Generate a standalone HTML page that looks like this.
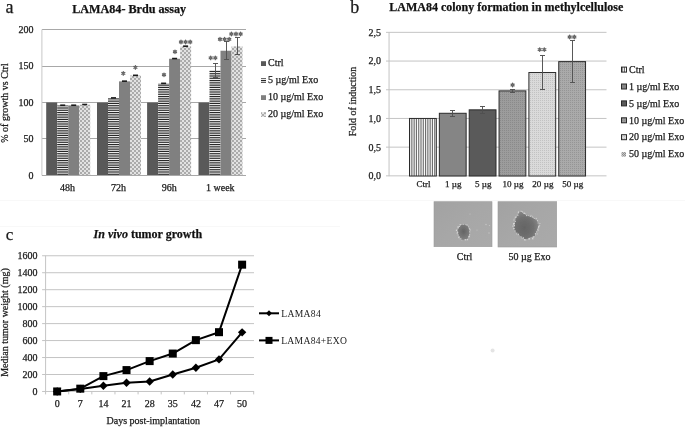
<!DOCTYPE html>
<html><head><meta charset="utf-8"><title>Figure</title>
<style>html,body{margin:0;padding:0;background:#fff;width:685px;height:427px;overflow:hidden;font-family:"Liberation Serif",serif;}svg{display:block;filter:grayscale(1)} text{stroke:#1a1a1a;stroke-width:0.25px}</style>
</head><body>
<svg width="685" height="427" viewBox="0 0 685 427">
<defs>
 <pattern id="pH" width="4" height="16" patternUnits="userSpaceOnUse">
  <rect y="0" width="4" height="1" fill="#282828"/><rect y="1" width="4" height="1" fill="#cecece"/><rect y="2" width="4" height="1" fill="#5e5e5e"/><rect y="3" width="4" height="1" fill="#989898"/><rect y="4" width="4" height="1" fill="#989898"/><rect y="5" width="4" height="1" fill="#5e5e5e"/><rect y="6" width="4" height="1" fill="#cecece"/><rect y="7" width="4" height="1" fill="#282828"/><rect y="8" width="4" height="1" fill="#ebebeb"/><rect y="9" width="4" height="1" fill="#454545"/><rect y="10" width="4" height="1" fill="#b5b5b5"/><rect y="11" width="4" height="1" fill="#7b7b7b"/><rect y="12" width="4" height="1" fill="#7b7b7b"/><rect y="13" width="4" height="1" fill="#b5b5b5"/><rect y="14" width="4" height="1" fill="#454545"/><rect y="15" width="4" height="1" fill="#ebebeb"/>
 </pattern>
 <pattern id="pC" width="4" height="4" patternUnits="userSpaceOnUse">
  <rect width="4" height="4" fill="#e2e2e2"/>
  <rect x="0" y="0" width="2" height="2" fill="#ababab"/>
  <rect x="2" y="2" width="2" height="2" fill="#ababab"/>
 </pattern>
 <pattern id="pV" x="409" width="16" height="4" patternUnits="userSpaceOnUse">
  <rect x="0" width="1" height="4" fill="#6e6e6e"/><rect x="1" width="1" height="4" fill="#e5e5e5"/><rect x="2" width="1" height="4" fill="#949494"/><rect x="3" width="1" height="4" fill="#bebebe"/><rect x="4" width="1" height="4" fill="#bebebe"/><rect x="5" width="1" height="4" fill="#949494"/><rect x="6" width="1" height="4" fill="#e5e5e5"/><rect x="7" width="1" height="4" fill="#6e6e6e"/><rect x="8" width="1" height="4" fill="#fafafa"/><rect x="9" width="1" height="4" fill="#838383"/><rect x="10" width="1" height="4" fill="#d4d4d4"/><rect x="11" width="1" height="4" fill="#aaaaaa"/><rect x="12" width="1" height="4" fill="#aaaaaa"/><rect x="13" width="1" height="4" fill="#d4d4d4"/><rect x="14" width="1" height="4" fill="#838383"/><rect x="15" width="1" height="4" fill="#fafafa"/>
 </pattern>
 <pattern id="pD1" width="2" height="2" patternUnits="userSpaceOnUse">
  <rect width="2" height="2" fill="#9c9c9c"/>
  <rect width="1" height="1" fill="#8a8a8a"/>
 </pattern>
 <pattern id="pD2" width="2" height="2" patternUnits="userSpaceOnUse">
  <rect width="2" height="2" fill="#dadada"/>
  <rect width="1" height="1" fill="#c2c2c2"/>
 </pattern>
 <pattern id="pD3" width="2" height="2" patternUnits="userSpaceOnUse">
  <rect width="2" height="2" fill="#aaaaaa"/>
  <rect width="1" height="1" fill="#959595"/>
 </pattern>
 <pattern id="pL50" width="2" height="2" patternUnits="userSpaceOnUse">
  <rect width="2" height="2" fill="#c8c8c8"/>
  <rect width="1" height="1" fill="#8c8c8c"/><rect x="1" y="1" width="1" height="1" fill="#8c8c8c"/>
 </pattern>
 <linearGradient id="phg" x1="0" y1="0" x2="1" y2="1">
  <stop offset="0" stop-color="#a2a2a2"/><stop offset="0.5" stop-color="#a7a7a7"/><stop offset="1" stop-color="#aaaaaa"/>
 </linearGradient>
 <filter id="soft" x="-20%" y="-20%" width="140%" height="140%"><feGaussianBlur stdDeviation="0.45"/></filter>
 <radialGradient id="bg1" cx="48%" cy="45%" r="55%">
  <stop offset="0" stop-color="#646464"/>
  <stop offset="1" stop-color="#828282"/>
 </radialGradient>
 <radialGradient id="bg2" cx="42%" cy="58%" r="60%">
  <stop offset="0" stop-color="#646464"/>
  <stop offset="0.6" stop-color="#707070"/>
  <stop offset="1" stop-color="#8a8a8a"/>
 </radialGradient>
 <radialGradient id="blob1" cx="50%" cy="50%" r="50%">
  <stop offset="0" stop-color="#676767"/>
  <stop offset="0.7" stop-color="#747474"/>
  <stop offset="1" stop-color="#a6a6a6" stop-opacity="0"/>
 </radialGradient>
</defs>
<line x1="0" y1="200.5" x2="685" y2="200.5" stroke="#f8f8f8" stroke-width="1"/>
<line x1="0" y1="226.5" x2="340" y2="226.5" stroke="#f8f8f8" stroke-width="1"/>
<text x="5.5" y="13" font-family="Liberation Serif" font-size="18" fill="#1a1a1a">a</text>
<text x="72.2" y="13.2" font-family="Liberation Serif" font-size="12.15" font-weight="bold" fill="#111">LAMA84- Brdu assay</text>
<line x1="42" y1="138.5" x2="246" y2="138.5" stroke="#a8a8a8" stroke-width="1"/>
<text x="33.5" y="142.35" font-family="Liberation Serif" font-size="10" text-anchor="end" fill="#1a1a1a">50</text>
<line x1="42" y1="102.5" x2="246" y2="102.5" stroke="#a8a8a8" stroke-width="1"/>
<text x="33.5" y="105.9" font-family="Liberation Serif" font-size="10" text-anchor="end" fill="#1a1a1a">100</text>
<line x1="42" y1="66.5" x2="246" y2="66.5" stroke="#a8a8a8" stroke-width="1"/>
<text x="33.5" y="69.45" font-family="Liberation Serif" font-size="10" text-anchor="end" fill="#1a1a1a">150</text>
<line x1="42" y1="29.5" x2="246" y2="29.5" stroke="#a8a8a8" stroke-width="1"/>
<text x="33.5" y="33" font-family="Liberation Serif" font-size="10" text-anchor="end" fill="#1a1a1a">200</text>
<text x="33.5" y="178.8" font-family="Liberation Serif" font-size="10" text-anchor="end" fill="#1a1a1a">0</text>
<line x1="41.9" y1="29.5" x2="41.9" y2="175.5" stroke="#c8c8c8" stroke-width="1"/>
<rect x="46.2" y="102.5" width="11" height="72.9" fill="#595959"/>
<rect x="57.2" y="105.42" width="11" height="69.98" fill="url(#pH)"/>
<rect x="68.2" y="105.42" width="11" height="69.98" fill="#808080"/>
<rect x="79.2" y="104.69" width="11" height="70.71" fill="url(#pC)"/>
<text x="67.6" y="191" font-family="Liberation Serif" font-size="10" text-anchor="middle" fill="#1a1a1a">48h</text>
<rect x="97" y="102.5" width="11" height="72.9" fill="#595959"/>
<rect x="108" y="98.13" width="11" height="77.27" fill="url(#pH)"/>
<rect x="119" y="81.36" width="11" height="94.04" fill="#808080"/>
<rect x="130" y="75.53" width="11" height="99.87" fill="url(#pC)"/>
<text x="118.4" y="191" font-family="Liberation Serif" font-size="10" text-anchor="middle" fill="#1a1a1a">72h</text>
<rect x="147.1" y="102.5" width="11" height="72.9" fill="#595959"/>
<rect x="158.1" y="83.55" width="11" height="91.85" fill="url(#pH)"/>
<rect x="169.1" y="58.76" width="11" height="116.64" fill="#808080"/>
<rect x="180.1" y="46.37" width="11" height="129.03" fill="url(#pC)"/>
<text x="169.2" y="191" font-family="Liberation Serif" font-size="10" text-anchor="middle" fill="#1a1a1a">96h</text>
<rect x="198.5" y="102.5" width="11" height="72.9" fill="#595959"/>
<rect x="209.5" y="70.42" width="11" height="104.98" fill="url(#pH)"/>
<rect x="220.5" y="50.74" width="11" height="124.66" fill="#808080"/>
<rect x="231.5" y="46.37" width="11" height="129.03" fill="url(#pC)"/>
<text x="220.3" y="191" font-family="Liberation Serif" font-size="10" text-anchor="middle" fill="#1a1a1a">1 week</text>
<line x1="42" y1="175.5" x2="246" y2="175.5" stroke="#a8a8a8" stroke-width="1"/>
<rect x="60.2" y="104.42" width="5" height="1.6" fill="#1a1a1a"/>
<rect x="71.2" y="104.42" width="5" height="1.6" fill="#1a1a1a"/>
<rect x="82.2" y="103.69" width="5" height="1.6" fill="#1a1a1a"/>
<rect x="111" y="97.13" width="5" height="1.6" fill="#1a1a1a"/>
<rect x="122" y="80.36" width="5" height="1.6" fill="#1a1a1a"/>
<rect x="133" y="74.53" width="5" height="1.6" fill="#1a1a1a"/>
<rect x="161.1" y="82.55" width="5" height="1.6" fill="#1a1a1a"/>
<rect x="172.1" y="57.76" width="5" height="1.6" fill="#1a1a1a"/>
<rect x="183.1" y="45.37" width="5" height="1.6" fill="#1a1a1a"/>
<line x1="215.5" y1="63.5" x2="215.5" y2="77.5" stroke="#505050" stroke-width="0.95"/>
<line x1="213" y1="63.5" x2="218" y2="63.5" stroke="#505050" stroke-width="0.95"/>
<line x1="213" y1="77.5" x2="218" y2="77.5" stroke="#505050" stroke-width="0.95"/>
<line x1="226.5" y1="41.5" x2="226.5" y2="59.5" stroke="#505050" stroke-width="0.95"/>
<line x1="224" y1="41.5" x2="229" y2="41.5" stroke="#505050" stroke-width="0.95"/>
<line x1="224" y1="59.5" x2="229" y2="59.5" stroke="#505050" stroke-width="0.95"/>
<line x1="237.5" y1="37.5" x2="237.5" y2="54.5" stroke="#505050" stroke-width="0.95"/>
<line x1="235" y1="37.5" x2="240" y2="37.5" stroke="#505050" stroke-width="0.95"/>
<line x1="235" y1="54.5" x2="240" y2="54.5" stroke="#505050" stroke-width="0.95"/>
<path d="M123.3 71.65L123.3 75.15M121.78 72.53L124.82 74.28M121.78 74.28L124.82 72.53" stroke="#606060" stroke-width="1.3" stroke-linecap="round"/>
<circle cx="123.3" cy="73.4" r="0.9" fill="#707070"/>
<path d="M135.4 65.65L135.4 69.15M133.88 66.53L136.92 68.28M133.88 68.28L136.92 66.53" stroke="#606060" stroke-width="1.3" stroke-linecap="round"/>
<circle cx="135.4" cy="67.4" r="0.9" fill="#707070"/>
<path d="M164 73.05L164 76.55M162.48 73.92L165.52 75.67M162.48 75.67L165.52 73.92" stroke="#606060" stroke-width="1.3" stroke-linecap="round"/>
<circle cx="164" cy="74.8" r="0.9" fill="#707070"/>
<path d="M175 50.05L175 53.55M173.48 50.92L176.52 52.67M173.48 52.67L176.52 50.92" stroke="#606060" stroke-width="1.3" stroke-linecap="round"/>
<circle cx="175" cy="51.8" r="0.9" fill="#707070"/>
<path d="M181 40.25L181 43.75M179.48 41.12L182.52 42.88M179.48 42.88L182.52 41.12" stroke="#606060" stroke-width="1.3" stroke-linecap="round"/>
<circle cx="181" cy="42" r="0.9" fill="#707070"/>
<path d="M185.6 40.25L185.6 43.75M184.08 41.12L187.12 42.88M184.08 42.88L187.12 41.12" stroke="#606060" stroke-width="1.3" stroke-linecap="round"/>
<circle cx="185.6" cy="42" r="0.9" fill="#707070"/>
<path d="M190.2 40.25L190.2 43.75M188.68 41.12L191.72 42.88M188.68 42.88L191.72 41.12" stroke="#606060" stroke-width="1.3" stroke-linecap="round"/>
<circle cx="190.2" cy="42" r="0.9" fill="#707070"/>
<path d="M210.7 56.15L210.7 59.65M209.18 57.02L212.22 58.77M209.18 58.77L212.22 57.02" stroke="#606060" stroke-width="1.3" stroke-linecap="round"/>
<circle cx="210.7" cy="57.9" r="0.9" fill="#707070"/>
<path d="M215.3 56.15L215.3 59.65M213.78 57.02L216.82 58.77M213.78 58.77L216.82 57.02" stroke="#606060" stroke-width="1.3" stroke-linecap="round"/>
<circle cx="215.3" cy="57.9" r="0.9" fill="#707070"/>
<path d="M220 37.45L220 40.95M218.48 38.33L221.52 40.08M218.48 40.08L221.52 38.33" stroke="#606060" stroke-width="1.3" stroke-linecap="round"/>
<circle cx="220" cy="39.2" r="0.9" fill="#707070"/>
<path d="M224.6 37.45L224.6 40.95M223.08 38.33L226.12 40.08M223.08 40.08L226.12 38.33" stroke="#606060" stroke-width="1.3" stroke-linecap="round"/>
<circle cx="224.6" cy="39.2" r="0.9" fill="#707070"/>
<path d="M229.2 37.45L229.2 40.95M227.68 38.33L230.72 40.08M227.68 40.08L230.72 38.33" stroke="#606060" stroke-width="1.3" stroke-linecap="round"/>
<circle cx="229.2" cy="39.2" r="0.9" fill="#707070"/>
<path d="M231.4 32.25L231.4 35.75M229.88 33.12L232.92 34.88M229.88 34.88L232.92 33.12" stroke="#606060" stroke-width="1.3" stroke-linecap="round"/>
<circle cx="231.4" cy="34" r="0.9" fill="#707070"/>
<path d="M236 32.25L236 35.75M234.48 33.12L237.52 34.88M234.48 34.88L237.52 33.12" stroke="#606060" stroke-width="1.3" stroke-linecap="round"/>
<circle cx="236" cy="34" r="0.9" fill="#707070"/>
<path d="M240.6 32.25L240.6 35.75M239.08 33.12L242.12 34.88M239.08 34.88L242.12 33.12" stroke="#606060" stroke-width="1.3" stroke-linecap="round"/>
<circle cx="240.6" cy="34" r="0.9" fill="#707070"/>
<text transform="translate(8.4,103) rotate(-90)" font-family="Liberation Serif" font-size="10" text-anchor="middle" fill="#1a1a1a">% of growth vs Ctrl</text>
<rect x="261" y="61.2" width="5" height="4.8" fill="#595959"/>
<text x="268" y="65.8" font-family="Liberation Serif" font-size="10" fill="#1a1a1a">Ctrl</text>
<rect x="261" y="78.2" width="5" height="4.8" fill="url(#pH)"/>
<text x="268" y="82.8" font-family="Liberation Serif" font-size="10" fill="#1a1a1a">5 µg/ml Exo</text>
<rect x="261" y="95.2" width="5" height="4.8" fill="#808080"/>
<text x="268" y="99.8" font-family="Liberation Serif" font-size="10" fill="#1a1a1a">10 µg/ml Exo</text>
<rect x="261" y="112.2" width="5" height="4.8" fill="url(#pC)"/>
<text x="268" y="116.8" font-family="Liberation Serif" font-size="10" fill="#1a1a1a">20 µg/ml Exo</text>
<text x="350.3" y="12.8" font-family="Liberation Serif" font-size="18" fill="#1a1a1a">b</text>
<text x="389.3" y="11.4" font-family="Liberation Serif" font-size="12" font-weight="bold" fill="#111">LAMA84 colony formation in methylcellulose</text>
<line x1="386" y1="175.85" x2="606.5" y2="175.85" stroke="#c4c4c4" stroke-width="1"/>
<text x="381" y="179.25" font-family="Liberation Serif" font-size="10" text-anchor="end" fill="#1a1a1a">0,0</text>
<line x1="386" y1="147.15" x2="606.5" y2="147.15" stroke="#c4c4c4" stroke-width="1"/>
<text x="381" y="150.55" font-family="Liberation Serif" font-size="10" text-anchor="end" fill="#1a1a1a">0,5</text>
<line x1="386" y1="118.45" x2="606.5" y2="118.45" stroke="#c4c4c4" stroke-width="1"/>
<text x="381" y="121.85" font-family="Liberation Serif" font-size="10" text-anchor="end" fill="#1a1a1a">1,0</text>
<line x1="386" y1="89.75" x2="606.5" y2="89.75" stroke="#c4c4c4" stroke-width="1"/>
<text x="381" y="93.15" font-family="Liberation Serif" font-size="10" text-anchor="end" fill="#1a1a1a">1,5</text>
<line x1="386" y1="61.05" x2="606.5" y2="61.05" stroke="#c4c4c4" stroke-width="1"/>
<text x="381" y="64.45" font-family="Liberation Serif" font-size="10" text-anchor="end" fill="#1a1a1a">2,0</text>
<line x1="386" y1="32.35" x2="606.5" y2="32.35" stroke="#c4c4c4" stroke-width="1"/>
<text x="381" y="35.75" font-family="Liberation Serif" font-size="10" text-anchor="end" fill="#1a1a1a">2,5</text>
<line x1="389.05" y1="32" x2="389.05" y2="176.2" stroke="#c4c4c4" stroke-width="1"/>
<rect x="409.5" y="118.45" width="26.8" height="57.55" fill="url(#pV)" stroke="#2a2a2a" stroke-width="1"/>
<text x="423.5" y="187.4" font-family="Liberation Serif" font-size="9.1" text-anchor="middle" fill="#1a1a1a">Ctrl</text>
<rect x="439.35" y="113.28" width="26.8" height="62.72" fill="#858585" stroke="#2a2a2a" stroke-width="1"/>
<text x="453.35" y="187.4" font-family="Liberation Serif" font-size="9.1" text-anchor="middle" fill="#1a1a1a">1 µg</text>
<line x1="452.5" y1="110.5" x2="452.5" y2="116.5" stroke="#505050" stroke-width="0.95"/>
<line x1="450" y1="110.5" x2="455" y2="110.5" stroke="#505050" stroke-width="0.95"/>
<line x1="450" y1="116.5" x2="455" y2="116.5" stroke="#505050" stroke-width="0.95"/>
<rect x="469.2" y="109.84" width="26.8" height="66.16" fill="#5a5a5a" stroke="#2a2a2a" stroke-width="1"/>
<text x="483.2" y="187.4" font-family="Liberation Serif" font-size="9.1" text-anchor="middle" fill="#1a1a1a">5 µg</text>
<line x1="482.5" y1="106.5" x2="482.5" y2="113.5" stroke="#505050" stroke-width="0.95"/>
<line x1="480" y1="106.5" x2="485" y2="106.5" stroke="#505050" stroke-width="0.95"/>
<line x1="480" y1="113.5" x2="485" y2="113.5" stroke="#505050" stroke-width="0.95"/>
<rect x="499.05" y="90.9" width="26.8" height="85.1" fill="url(#pD1)" stroke="#2a2a2a" stroke-width="1"/>
<text x="513.05" y="187.4" font-family="Liberation Serif" font-size="9.1" text-anchor="middle" fill="#1a1a1a">10 µg</text>
<line x1="512.5" y1="89.5" x2="512.5" y2="92.5" stroke="#505050" stroke-width="0.95"/>
<line x1="510" y1="89.5" x2="515" y2="89.5" stroke="#505050" stroke-width="0.95"/>
<line x1="510" y1="92.5" x2="515" y2="92.5" stroke="#505050" stroke-width="0.95"/>
<rect x="528.9" y="72.53" width="26.8" height="103.47" fill="url(#pD2)" stroke="#2a2a2a" stroke-width="1"/>
<text x="542.9" y="187.4" font-family="Liberation Serif" font-size="9.1" text-anchor="middle" fill="#1a1a1a">20 µg</text>
<line x1="542.5" y1="55.5" x2="542.5" y2="89.5" stroke="#505050" stroke-width="0.95"/>
<line x1="540" y1="55.5" x2="545" y2="55.5" stroke="#505050" stroke-width="0.95"/>
<line x1="540" y1="89.5" x2="545" y2="89.5" stroke="#505050" stroke-width="0.95"/>
<rect x="558.75" y="61.62" width="26.8" height="114.38" fill="url(#pD3)" stroke="#2a2a2a" stroke-width="1"/>
<text x="572.75" y="187.4" font-family="Liberation Serif" font-size="9.1" text-anchor="middle" fill="#1a1a1a">50 µg</text>
<line x1="572.5" y1="40.5" x2="572.5" y2="82.5" stroke="#505050" stroke-width="0.95"/>
<line x1="570" y1="40.5" x2="575" y2="40.5" stroke="#505050" stroke-width="0.95"/>
<line x1="570" y1="82.5" x2="575" y2="82.5" stroke="#505050" stroke-width="0.95"/>
<path d="M512.6 83.25L512.6 86.75M511.08 84.12L514.12 85.88M511.08 85.88L514.12 84.12" stroke="#606060" stroke-width="1.3" stroke-linecap="round"/>
<circle cx="512.6" cy="85" r="0.9" fill="#707070"/>
<path d="M539.7 47.85L539.7 51.35M538.18 48.73L541.22 50.48M538.18 50.48L541.22 48.73" stroke="#606060" stroke-width="1.3" stroke-linecap="round"/>
<circle cx="539.7" cy="49.6" r="0.9" fill="#707070"/>
<path d="M544.3 47.85L544.3 51.35M542.78 48.73L545.82 50.48M542.78 50.48L545.82 48.73" stroke="#606060" stroke-width="1.3" stroke-linecap="round"/>
<circle cx="544.3" cy="49.6" r="0.9" fill="#707070"/>
<path d="M569.7 35.25L569.7 38.75M568.18 36.12L571.22 37.88M568.18 37.88L571.22 36.12" stroke="#606060" stroke-width="1.3" stroke-linecap="round"/>
<circle cx="569.7" cy="37" r="0.9" fill="#707070"/>
<path d="M574.3 35.25L574.3 38.75M572.78 36.12L575.82 37.88M572.78 37.88L575.82 36.12" stroke="#606060" stroke-width="1.3" stroke-linecap="round"/>
<circle cx="574.3" cy="37" r="0.9" fill="#707070"/>
<text transform="translate(356,101.5) rotate(-90)" font-family="Liberation Serif" font-size="10" text-anchor="middle" fill="#1a1a1a">Fold of induction</text>
<rect x="621.5" y="67.1" width="5" height="5" fill="url(#pV)" stroke="#2a2a2a" stroke-width="1"/>
<text x="629" y="72.8" font-family="Liberation Serif" font-size="10" fill="#1a1a1a">Ctrl</text>
<rect x="621.5" y="84" width="5" height="5" fill="#858585" stroke="#2a2a2a" stroke-width="1"/>
<text x="629" y="89.7" font-family="Liberation Serif" font-size="10" fill="#1a1a1a">1 µg/ml Exo</text>
<rect x="621.5" y="100.9" width="5" height="5" fill="#5a5a5a" stroke="#2a2a2a" stroke-width="1"/>
<text x="629" y="106.6" font-family="Liberation Serif" font-size="10" fill="#1a1a1a">5 µg/ml Exo</text>
<rect x="621.5" y="117.8" width="5" height="5" fill="url(#pD1)" stroke="#2a2a2a" stroke-width="1"/>
<text x="629" y="123.5" font-family="Liberation Serif" font-size="10" fill="#1a1a1a">10 µg/ml Exo</text>
<rect x="621.5" y="134.7" width="5" height="5" fill="url(#pD2)" stroke="#2a2a2a" stroke-width="1"/>
<text x="629" y="140.4" font-family="Liberation Serif" font-size="10" fill="#1a1a1a">20 µg/ml Exo</text>
<rect x="621.5" y="152.1" width="4.5" height="4.5" fill="url(#pL50)"/>
<text x="629" y="157.3" font-family="Liberation Serif" font-size="10" fill="#1a1a1a">50 µg/ml Exo</text>
<rect x="434" y="201.7" width="58" height="45" fill="url(#phg)" stroke="#9c9c9c" stroke-width="0.6"/>
<rect x="498" y="201.7" width="58.7" height="45.3" fill="url(#phg)" stroke="#9c9c9c" stroke-width="0.6"/>
<g filter="url(#soft)"><path d="M461 224.5 L464.9 224.1 L467.7 225.2 L469.1 228.4 L470.5 232.6 L469.1 236.1 L467.7 239.6 L464.9 240.3 L461.4 240.3 L459.2 237.5 L457.8 234 L457.1 230.5 L458.9 226.9Z" fill="url(#bg1)" stroke="#a8a8a8" stroke-width="1"/><circle cx="460.55" cy="224.78" r="0.48" fill="#d4d4d4"/><circle cx="461.7" cy="224.35" r="0.46" fill="#bdbdbd"/><circle cx="463.41" cy="224.3" r="0.47" fill="#d4d4d4"/><circle cx="465.96" cy="224.58" r="0.47" fill="#bdbdbd"/><circle cx="465.78" cy="224.78" r="0.5" fill="#bdbdbd"/><circle cx="467" cy="224.96" r="0.78" fill="#c8c8c8"/><circle cx="468.59" cy="226.27" r="0.49" fill="#d4d4d4"/><circle cx="469.5" cy="228.87" r="0.66" fill="#dedede"/><circle cx="470.54" cy="229.91" r="0.55" fill="#c8c8c8"/><circle cx="469.72" cy="231.94" r="0.66" fill="#dedede"/><circle cx="469.87" cy="234.07" r="0.5" fill="#bdbdbd"/><circle cx="469.67" cy="234.75" r="0.62" fill="#d4d4d4"/><circle cx="469.5" cy="236.22" r="0.58" fill="#dedede"/><circle cx="469.09" cy="236.43" r="0.79" fill="#dedede"/><circle cx="468.83" cy="236.72" r="0.73" fill="#bdbdbd"/><circle cx="467.86" cy="238.97" r="0.46" fill="#bdbdbd"/><circle cx="467.62" cy="239.66" r="0.54" fill="#dedede"/><circle cx="465.69" cy="239.76" r="0.8" fill="#d4d4d4"/><circle cx="464.53" cy="239.86" r="0.5" fill="#bdbdbd"/><circle cx="461.8" cy="240.13" r="0.59" fill="#bdbdbd"/><circle cx="460.07" cy="238.85" r="0.54" fill="#c8c8c8"/><circle cx="460.95" cy="238.25" r="0.56" fill="#c8c8c8"/><circle cx="458.82" cy="237.34" r="0.83" fill="#d4d4d4"/><circle cx="459.35" cy="236.92" r="0.72" fill="#bdbdbd"/><circle cx="457.94" cy="234.85" r="0.61" fill="#c8c8c8"/><circle cx="457.2" cy="233.25" r="0.59" fill="#d4d4d4"/><circle cx="457.56" cy="232.22" r="0.83" fill="#d4d4d4"/><circle cx="456.54" cy="230.2" r="0.7" fill="#dedede"/><circle cx="457.87" cy="228.1" r="0.65" fill="#bdbdbd"/><circle cx="458.1" cy="227.04" r="0.75" fill="#dedede"/><circle cx="459.59" cy="226.59" r="0.53" fill="#dedede"/><circle cx="460.13" cy="224.65" r="0.66" fill="#d4d4d4"/></g>
<g filter="url(#soft)"><path d="M518.2 212 L521.5 211.1 L523.8 213.4 L530.4 216.2 L534.1 218.1 L538.8 221.4 L539.3 223.7 L538.3 228.4 L536.9 231.2 L536 235 L533.2 237.8 L528.5 239.2 L523.8 239.7 L521 236.9 L518.2 235 L514.4 231.2 L513.5 227.5 L514.4 221.9 L515.4 218.1 L517.2 214.4Z" fill="url(#bg2)" stroke="#a8a8a8" stroke-width="1"/><circle cx="518.41" cy="211.55" r="0.52" fill="#c8c8c8"/><circle cx="520.94" cy="211.07" r="0.54" fill="#c8c8c8"/><circle cx="522.69" cy="212.14" r="0.54" fill="#bdbdbd"/><circle cx="521.95" cy="211.55" r="0.56" fill="#dedede"/><circle cx="524.16" cy="213.15" r="0.77" fill="#dedede"/><circle cx="525.61" cy="213.72" r="0.54" fill="#c8c8c8"/><circle cx="526.67" cy="215.6" r="0.69" fill="#d4d4d4"/><circle cx="528.45" cy="215.84" r="0.48" fill="#d4d4d4"/><circle cx="530.37" cy="216.45" r="0.64" fill="#c8c8c8"/><circle cx="530.99" cy="215.54" r="0.83" fill="#bdbdbd"/><circle cx="532.46" cy="216.18" r="0.51" fill="#c8c8c8"/><circle cx="533.07" cy="217.41" r="0.71" fill="#bdbdbd"/><circle cx="534.26" cy="218.52" r="0.5" fill="#d4d4d4"/><circle cx="536.29" cy="218.53" r="0.75" fill="#c8c8c8"/><circle cx="537.5" cy="220.62" r="0.53" fill="#dedede"/><circle cx="537.78" cy="221.21" r="0.58" fill="#bdbdbd"/><circle cx="538.17" cy="223.03" r="0.81" fill="#bdbdbd"/><circle cx="539.93" cy="223.54" r="0.51" fill="#d4d4d4"/><circle cx="539.47" cy="225.71" r="0.76" fill="#c8c8c8"/><circle cx="538.72" cy="226.62" r="0.67" fill="#dedede"/><circle cx="538.51" cy="227.67" r="0.76" fill="#d4d4d4"/><circle cx="537.75" cy="229.15" r="0.65" fill="#d4d4d4"/><circle cx="538.11" cy="230.32" r="0.7" fill="#c8c8c8"/><circle cx="536.68" cy="231.79" r="0.64" fill="#c8c8c8"/><circle cx="537.23" cy="233.88" r="0.55" fill="#c8c8c8"/><circle cx="535.42" cy="233.61" r="0.63" fill="#d4d4d4"/><circle cx="535.48" cy="234.8" r="0.57" fill="#d4d4d4"/><circle cx="533.87" cy="236.87" r="0.71" fill="#c8c8c8"/><circle cx="533.27" cy="236.94" r="0.75" fill="#d4d4d4"/><circle cx="532.89" cy="238.86" r="0.78" fill="#c8c8c8"/><circle cx="532.52" cy="238.11" r="0.62" fill="#dedede"/><circle cx="531.07" cy="237.61" r="0.67" fill="#bdbdbd"/><circle cx="528.95" cy="239.03" r="0.57" fill="#d4d4d4"/><circle cx="529.23" cy="238.67" r="0.8" fill="#d4d4d4"/><circle cx="525.76" cy="239.95" r="0.56" fill="#c8c8c8"/><circle cx="525.3" cy="239.97" r="0.83" fill="#bdbdbd"/><circle cx="524.55" cy="239.76" r="0.73" fill="#d4d4d4"/><circle cx="523.31" cy="237.98" r="0.81" fill="#dedede"/><circle cx="521.68" cy="237.91" r="0.48" fill="#c8c8c8"/><circle cx="521.67" cy="236.77" r="0.59" fill="#bdbdbd"/><circle cx="518.36" cy="234.68" r="0.66" fill="#c8c8c8"/><circle cx="518.6" cy="233.99" r="0.52" fill="#dedede"/><circle cx="516.95" cy="233.1" r="0.63" fill="#c8c8c8"/><circle cx="516.75" cy="233.93" r="0.46" fill="#d4d4d4"/><circle cx="515.03" cy="231.11" r="0.64" fill="#bdbdbd"/><circle cx="515.02" cy="230.99" r="0.65" fill="#bdbdbd"/><circle cx="513.54" cy="228.68" r="0.54" fill="#c8c8c8"/><circle cx="514.06" cy="228.39" r="0.61" fill="#dedede"/><circle cx="514.31" cy="225.7" r="0.7" fill="#dedede"/><circle cx="512.89" cy="226.07" r="0.6" fill="#dedede"/><circle cx="514.42" cy="223.29" r="0.52" fill="#dedede"/><circle cx="513.76" cy="223.85" r="0.84" fill="#dedede"/><circle cx="515.38" cy="221.33" r="0.59" fill="#d4d4d4"/><circle cx="513.97" cy="219.94" r="0.71" fill="#c8c8c8"/><circle cx="514.18" cy="218.51" r="0.49" fill="#bdbdbd"/><circle cx="515.4" cy="217.27" r="0.7" fill="#d4d4d4"/><circle cx="516.27" cy="216.93" r="0.71" fill="#bdbdbd"/><circle cx="517.32" cy="215.06" r="0.56" fill="#c8c8c8"/><circle cx="517.88" cy="215.15" r="0.7" fill="#c8c8c8"/><circle cx="518.48" cy="212.68" r="0.78" fill="#d4d4d4"/></g>
<g filter="url(#soft)" fill="#c6c6c6"><circle cx="486" cy="224.5" r="0.7"/><circle cx="489.5" cy="225.5" r="0.6"/><circle cx="489" cy="233" r="0.7"/><circle cx="477" cy="230" r="0.5"/><circle cx="470" cy="214" r="0.5"/></g>
<text x="464.6" y="259.6" font-family="Liberation Serif" font-size="10" text-anchor="middle" fill="#1a1a1a">Ctrl</text>
<text x="529.5" y="259.6" font-family="Liberation Serif" font-size="10" text-anchor="middle" fill="#1a1a1a">50 µg Exo</text>
<circle cx="492.6" cy="350.4" r="2" fill="#e4e4e4"/>
<text x="5.8" y="239.8" font-family="Liberation Serif" font-size="17" fill="#1a1a1a">c</text>
<text x="93.6" y="237.6" font-family="Liberation Serif" font-size="12" font-weight="bold" fill="#111"><tspan font-style="italic">In vivo</tspan> tumor growth</text>
<line x1="42.1" y1="391.46" x2="254" y2="391.46" stroke="#c4c4c4" stroke-width="1"/>
<text x="37.5" y="394.86" font-family="Liberation Serif" font-size="10" text-anchor="end" fill="#1a1a1a">0</text>
<line x1="42.1" y1="374.5" x2="254" y2="374.5" stroke="#c4c4c4" stroke-width="1"/>
<text x="37.5" y="377.9" font-family="Liberation Serif" font-size="10" text-anchor="end" fill="#1a1a1a">200</text>
<line x1="42.1" y1="357.54" x2="254" y2="357.54" stroke="#c4c4c4" stroke-width="1"/>
<text x="37.5" y="360.94" font-family="Liberation Serif" font-size="10" text-anchor="end" fill="#1a1a1a">400</text>
<line x1="42.1" y1="340.57" x2="254" y2="340.57" stroke="#c4c4c4" stroke-width="1"/>
<text x="37.5" y="343.97" font-family="Liberation Serif" font-size="10" text-anchor="end" fill="#1a1a1a">600</text>
<line x1="42.1" y1="323.61" x2="254" y2="323.61" stroke="#c4c4c4" stroke-width="1"/>
<text x="37.5" y="327.01" font-family="Liberation Serif" font-size="10" text-anchor="end" fill="#1a1a1a">800</text>
<line x1="42.1" y1="306.65" x2="254" y2="306.65" stroke="#c4c4c4" stroke-width="1"/>
<text x="37.5" y="310.05" font-family="Liberation Serif" font-size="10" text-anchor="end" fill="#1a1a1a">1000</text>
<line x1="42.1" y1="289.69" x2="254" y2="289.69" stroke="#c4c4c4" stroke-width="1"/>
<text x="37.5" y="293.09" font-family="Liberation Serif" font-size="10" text-anchor="end" fill="#1a1a1a">1200</text>
<line x1="42.1" y1="272.73" x2="254" y2="272.73" stroke="#c4c4c4" stroke-width="1"/>
<text x="37.5" y="276.13" font-family="Liberation Serif" font-size="10" text-anchor="end" fill="#1a1a1a">1400</text>
<line x1="42.1" y1="255.76" x2="254" y2="255.76" stroke="#c4c4c4" stroke-width="1"/>
<text x="37.5" y="259.16" font-family="Liberation Serif" font-size="10" text-anchor="end" fill="#1a1a1a">1600</text>
<line x1="45.6" y1="255.7" x2="45.6" y2="394.4" stroke="#c4c4c4" stroke-width="1"/>
<line x1="68.72" y1="391" x2="68.72" y2="394.4" stroke="#c4c4c4" stroke-width="1"/>
<line x1="91.84" y1="391" x2="91.84" y2="394.4" stroke="#c4c4c4" stroke-width="1"/>
<line x1="114.96" y1="391" x2="114.96" y2="394.4" stroke="#c4c4c4" stroke-width="1"/>
<line x1="138.08" y1="391" x2="138.08" y2="394.4" stroke="#c4c4c4" stroke-width="1"/>
<line x1="161.2" y1="391" x2="161.2" y2="394.4" stroke="#c4c4c4" stroke-width="1"/>
<line x1="184.32" y1="391" x2="184.32" y2="394.4" stroke="#c4c4c4" stroke-width="1"/>
<line x1="207.44" y1="391" x2="207.44" y2="394.4" stroke="#c4c4c4" stroke-width="1"/>
<line x1="230.56" y1="391" x2="230.56" y2="394.4" stroke="#c4c4c4" stroke-width="1"/>
<line x1="253.68" y1="391" x2="253.68" y2="394.4" stroke="#c4c4c4" stroke-width="1"/>
<text x="57.16" y="406.8" font-family="Liberation Serif" font-size="10" text-anchor="middle" fill="#1a1a1a">0</text>
<text x="80.28" y="406.8" font-family="Liberation Serif" font-size="10" text-anchor="middle" fill="#1a1a1a">7</text>
<text x="103.4" y="406.8" font-family="Liberation Serif" font-size="10" text-anchor="middle" fill="#1a1a1a">14</text>
<text x="126.52" y="406.8" font-family="Liberation Serif" font-size="10" text-anchor="middle" fill="#1a1a1a">21</text>
<text x="149.64" y="406.8" font-family="Liberation Serif" font-size="10" text-anchor="middle" fill="#1a1a1a">28</text>
<text x="172.76" y="406.8" font-family="Liberation Serif" font-size="10" text-anchor="middle" fill="#1a1a1a">35</text>
<text x="195.88" y="406.8" font-family="Liberation Serif" font-size="10" text-anchor="middle" fill="#1a1a1a">42</text>
<text x="219" y="406.8" font-family="Liberation Serif" font-size="10" text-anchor="middle" fill="#1a1a1a">47</text>
<text x="242.12" y="406.8" font-family="Liberation Serif" font-size="10" text-anchor="middle" fill="#1a1a1a">50</text>
<text x="106.5" y="423.9" font-family="Liberation Serif" font-size="10" fill="#1a1a1a">Days post-implantation</text>
<text transform="translate(7.8,322.5) rotate(-90)" font-family="Liberation Serif" font-size="10" text-anchor="middle" fill="#1a1a1a">Median tumor weight (mg)</text>
<polyline points="57.16,391.46 80.28,388.92 103.4,385.69 126.52,382.72 149.64,381.45 172.76,374.5 195.88,367.71 219,359.4 242.12,332.35" fill="none" stroke="#000" stroke-width="2" stroke-linejoin="round"/>
<polyline points="57.16,391.46 80.28,388.66 103.4,376.11 126.52,370.09 149.64,361.1 172.76,353.55 195.88,340.15 219,332.18 242.12,264.67" fill="none" stroke="#000" stroke-width="2" stroke-linejoin="round"/>
<path d="M57.16 387.26 L61.36 391.46 L57.16 395.66 L52.96 391.46Z" fill="#000"/>
<path d="M80.28 384.72 L84.48 388.92 L80.28 393.12 L76.08 388.92Z" fill="#000"/>
<path d="M103.4 381.49 L107.6 385.69 L103.4 389.89 L99.2 385.69Z" fill="#000"/>
<path d="M126.52 378.52 L130.72 382.72 L126.52 386.92 L122.32 382.72Z" fill="#000"/>
<path d="M149.64 377.25 L153.84 381.45 L149.64 385.65 L145.44 381.45Z" fill="#000"/>
<path d="M172.76 370.3 L176.96 374.5 L172.76 378.7 L168.56 374.5Z" fill="#000"/>
<path d="M195.88 363.51 L200.08 367.71 L195.88 371.91 L191.68 367.71Z" fill="#000"/>
<path d="M219 355.2 L223.2 359.4 L219 363.6 L214.8 359.4Z" fill="#000"/>
<path d="M242.12 328.15 L246.32 332.35 L242.12 336.55 L237.92 332.35Z" fill="#000"/>
<rect x="53.16" y="387.46" width="8" height="8" fill="#000"/>
<rect x="76.28" y="384.66" width="8" height="8" fill="#000"/>
<rect x="99.4" y="372.11" width="8" height="8" fill="#000"/>
<rect x="122.52" y="366.09" width="8" height="8" fill="#000"/>
<rect x="145.64" y="357.1" width="8" height="8" fill="#000"/>
<rect x="168.76" y="349.55" width="8" height="8" fill="#000"/>
<rect x="191.88" y="336.15" width="8" height="8" fill="#000"/>
<rect x="215" y="328.18" width="8" height="8" fill="#000"/>
<rect x="238.12" y="260.67" width="8" height="8" fill="#000"/>
<line x1="259" y1="313.3" x2="279" y2="313.3" stroke="#000" stroke-width="2"/>
<path d="M269 310.3 L272 313.3 L269 316.3 L266 313.3Z" fill="#000"/>
<text x="281.2" y="317.2" font-family="Liberation Serif" font-size="9.6" letter-spacing="0.35" fill="#1a1a1a" style="stroke:none">LAMA84</text>
<line x1="259" y1="340.4" x2="279" y2="340.4" stroke="#000" stroke-width="2"/>
<rect x="265.5" y="336.9" width="7" height="7" fill="#000"/>
<text x="281.2" y="344.3" font-family="Liberation Serif" font-size="9.6" letter-spacing="0.3" fill="#1a1a1a" style="stroke:none">LAMA84+EXO</text></svg>
</body></html>
